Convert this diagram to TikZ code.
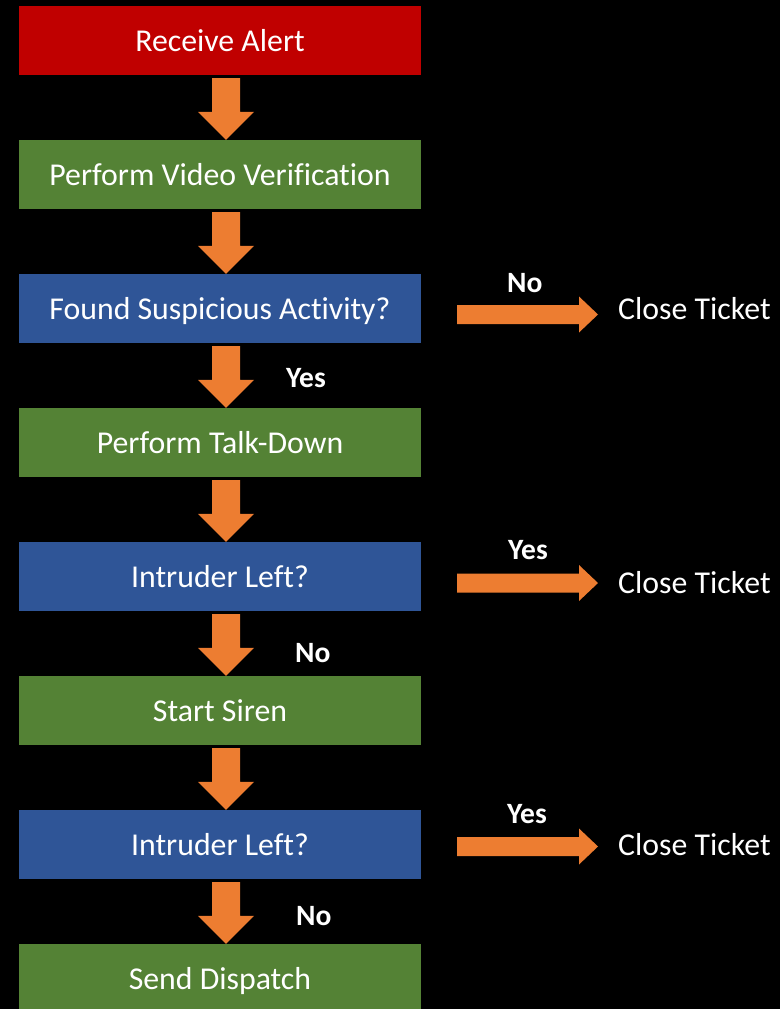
\documentclass[tikz,border=0pt]{standalone}
\usepackage{fontspec}
\setmainfont[Ligatures=NoCommon]{Carlito}
\usetikzlibrary{calc}
\definecolor{boxred}{HTML}{C00000}
\definecolor{boxgreen}{HTML}{548235}
\definecolor{boxblue}{HTML}{2F5597}
\definecolor{arrorange}{HTML}{ED7D31}
\newcommand\vblockarrow[2]{%
  \fill[arrowfill] let \p1=(#1), \p2=(#2) in
    (\x1-14pt,\y1) -- (\x1+14pt,\y1) -- (\x1+14pt,\y2+28pt) -- (\x1+28pt,\y2+28pt)
    -- (\x1,\y2) -- (\x1-28pt,\y2+28pt) -- (\x1-14pt,\y2+28pt) -- cycle;}
\newcommand\hblockarrow[2]{%
  \fill[arrowfill] let \p1=(#1), \p2=(#2) in
    (\x1,\y1+9.5pt) -- (\x2-19pt,\y1+9.5pt) -- (\x2-19pt,\y1+18pt) -- (\x2,\y1)
    -- (\x2-19pt,\y1-18pt) -- (\x2-19pt,\y1-9.5pt) -- (\x1,\y1-9.5pt) -- cycle;}
\begin{document}
\begin{tikzpicture}[x=1pt,y=-1pt,
  box/.style={minimum width=402pt, minimum height=69pt, inner sep=0pt,
    text height=25pt, text depth=4pt, text=white,
    font=\fontsize{31.8}{36}\selectfont},
  lbl/.style={text=white, inner sep=0pt, anchor=base west,
    font=\fontsize{29.5}{33}\selectfont\bfseries},
  ctext/.style={text=white, inner sep=0pt, anchor=base west,
    font=\fontsize{31.8}{36}\selectfont},
  arrowfill/.style={fill=arrorange}]
\clip (0,0) rectangle (780,1009);
\fill[black] (0,0) rectangle (780,1009);

\node[box,fill=boxred]   (b1) at (220,40.5)  {Receive Alert};
\node[box,fill=boxgreen] (b2) at (220,174.5) {Perform Video Verification};
\node[box,fill=boxblue]  (b3) at (220,308.5) {Found Suspicious Activity?};
\node[box,fill=boxgreen] (b4) at (220,442.5) {Perform Talk-Down};
\node[box,fill=boxblue]  (b5) at (220,576.5) {Intruder Left?};
\node[box,fill=boxgreen] (b6) at (220,710.5) {Start Siren};
\node[box,fill=boxblue]  (b7) at (220,844.5) {Intruder Left?};
\node[box,fill=boxgreen] (b8) at (220,978.5) {Send Dispatch};

\vblockarrow{[xshift=6pt,yshift=-3pt]b1.south}{[xshift=6pt]b2.north}
\vblockarrow{[xshift=6pt,yshift=-3pt]b2.south}{[xshift=6pt]b3.north}
\vblockarrow{[xshift=6pt,yshift=-3pt]b3.south}{[xshift=6pt]b4.north}
\vblockarrow{[xshift=6pt,yshift=-3pt]b4.south}{[xshift=6pt]b5.north}
\vblockarrow{[xshift=6pt,yshift=-3pt]b5.south}{[xshift=6pt]b6.north}
\vblockarrow{[xshift=6pt,yshift=-3pt]b6.south}{[xshift=6pt]b7.north}
\vblockarrow{[xshift=6pt,yshift=-3pt]b7.south}{[xshift=6pt]b8.north}

\node[lbl] (y3) at (286,387) {Yes};
\node[lbl] (n5) at (295,662) {No};
\node[lbl] (n7) at (296,925) {No};

\node[ctext] (c3) at (618,319) {Close Ticket};
\node[ctext] (c5) at (618,593) {Close Ticket};
\node[ctext] (c7) at (618,855) {Close Ticket};

\coordinate (h3s) at (457,314.5); \coordinate (h3e) at (598,314.5);
\coordinate (h5s) at (457,583);   \coordinate (h5e) at (598,583);
\coordinate (h7s) at (457,846.5); \coordinate (h7e) at (598,846.5);
\hblockarrow{h3s}{h3e}
\hblockarrow{h5s}{h5e}
\hblockarrow{h7s}{h7e}

\node[lbl] (l3) at (507,292) {No};
\node[lbl] (l5) at (508,559) {Yes};
\node[lbl] (l7) at (507,823) {Yes};
\end{tikzpicture}
\end{document}
